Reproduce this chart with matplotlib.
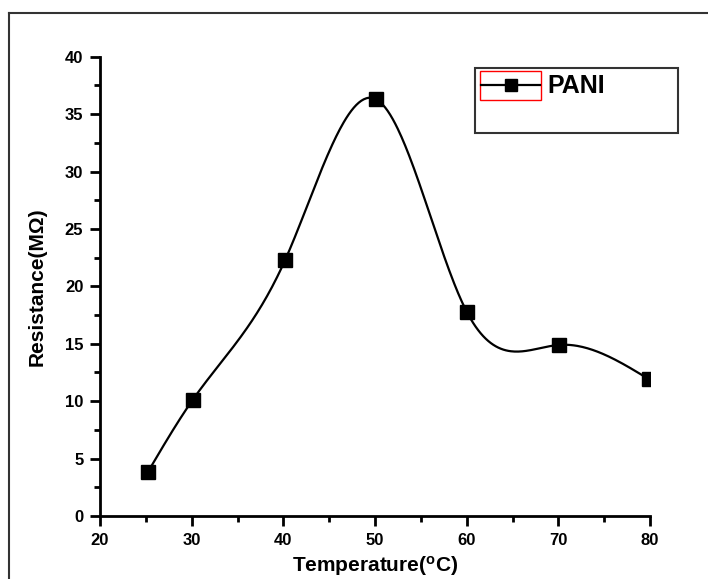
import numpy as np
import matplotlib
matplotlib.use("Agg")
import matplotlib.pyplot as plt
from matplotlib.patches import Rectangle
from matplotlib.lines import Line2D

# Resistance of PANI film vs temperature
temperature = [25.2, 30.1, 40.2, 50.1, 60.0, 70.1, 79.9]
resistance = [3.8, 10.1, 22.3, 36.3, 17.8, 14.9, 11.9]
x_ticks = [20, 30, 40, 50, 60, 70, 80]
y_ticks = [0, 5, 10, 15, 20, 25, 30, 35, 40]
series_name = "PANI"


def natural_cubic_spline(x, y, xs):
    x = np.asarray(x, float)
    y = np.asarray(y, float)
    n = len(x)
    h = np.diff(x)
    A = np.zeros((n, n))
    b = np.zeros(n)
    A[0, 0] = A[-1, -1] = 1.0
    for i in range(1, n - 1):
        A[i, i - 1] = h[i - 1]
        A[i, i] = 2 * (h[i - 1] + h[i])
        A[i, i + 1] = h[i]
        b[i] = 6 * ((y[i + 1] - y[i]) / h[i] - (y[i] - y[i - 1]) / h[i - 1])
    M = np.linalg.solve(A, b)
    idx = np.clip(np.searchsorted(x, xs) - 1, 0, n - 2)
    x0, x1 = x[idx], x[idx + 1]
    hh = x1 - x0
    t0 = x1 - xs
    t1 = xs - x0
    return (M[idx] * t0 ** 3 / (6 * hh) + M[idx + 1] * t1 ** 3 / (6 * hh)
            + (y[idx] / hh - M[idx] * hh / 6) * t0
            + (y[idx + 1] / hh - M[idx + 1] * hh / 6) * t1)


plt.rcParams["font.family"] = ["Liberation Sans", "DejaVu Sans"]
plt.rcParams["font.weight"] = "bold"

W, H = 708, 579
fig = plt.figure(figsize=(W / 100, H / 100), dpi=100)
ax = fig.add_axes([100 / W, 1 - 516 / H, 550 / W, (516 - 56.7) / H])

xs = np.linspace(temperature[0], temperature[-1], 400)
ax.plot(xs, natural_cubic_spline(temperature, resistance, xs), color="black", lw=1.6, zorder=2)
ax.plot(temperature, resistance, linestyle="none", marker="s", ms=10, color="black", zorder=3)

ax.set_xlim(20, 80)
ax.set_ylim(0, 40)
ax.set_xticks(x_ticks)
ax.set_yticks(y_ticks)
ax.set_xticks(np.arange(25, 80, 10), minor=True)
ax.set_yticks(np.arange(2.5, 40, 5), minor=True)
for s in ["top", "right"]:
    ax.spines[s].set_visible(False)
for s in ["left", "bottom"]:
    ax.spines[s].set_linewidth(2.0)
ax.tick_params(which="major", direction="out", length=7, width=2.0, labelsize=12, pad=5)
ax.tick_params(which="minor", direction="out", length=4, width=2.0)
for lab in ax.get_xticklabels() + ax.get_yticklabels():
    lab.set_fontweight("bold")
ax.set_xlabel("Temperature($\\mathregular{^o}$C)", fontsize=15, fontweight="bold", labelpad=4.5)
ax.set_ylabel("Resistance(MΩ)", fontsize=15, fontweight="bold", labelpad=13)

# outer frame lines
fig.add_artist(Line2D([9 / W, 1], [1 - 13 / H, 1 - 13 / H], transform=fig.transFigure,
                      color="#333333", lw=1.5))
fig.add_artist(Line2D([9 / W, 9 / W], [0, 1 - 13 / H], transform=fig.transFigure,
                      color="#333333", lw=1.5))

# legend box
fig.add_artist(Rectangle((475 / W, 1 - 133 / H), 203 / W, 65 / H, transform=fig.transFigure,
                         fill=False, edgecolor="#333333", lw=1.5))
fig.add_artist(Rectangle((480 / W, 1 - 100 / H), 61 / W, 29 / H, transform=fig.transFigure,
                         fill=False, edgecolor="red", lw=1.0))
fig.add_artist(Line2D([481 / W, 540 / W], [1 - 85 / H, 1 - 85 / H], transform=fig.transFigure,
                      color="black", lw=1.6))
fig.add_artist(Line2D([510.5 / W], [1 - 85 / H], transform=fig.transFigure,
                      color="black", marker="s", ms=9, linestyle="none"))
fig.text(547 / W, 1 - 86 / H, series_name, fontsize=18, fontweight="bold", va="center", ha="left")

fig.savefig("out.png", dpi=100)
